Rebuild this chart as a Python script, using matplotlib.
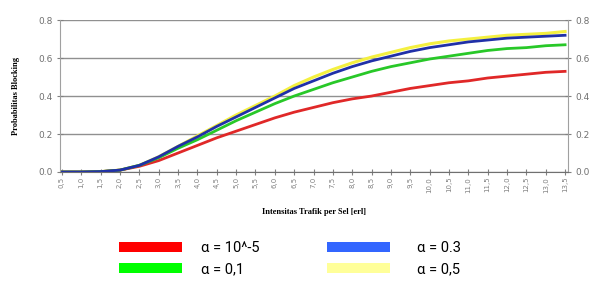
#!/usr/bin/env python3

import numpy as np
import matplotlib
matplotlib.use('Agg')
import matplotlib.pyplot as plt
from matplotlib.patches import Patch

# traffic per cell [erl] (category labels)
traffic = ['0,5', '1,0', '1,5', '2,0', '2,5', '3,0', '3,5', '4,0', '4,5',
           '5,0', '5,5', '6,0', '6,5', '7,0', '7,5', '8,0', '8,5', '9,0',
           '9,5', '10,0', '10,5', '11,0', '11,5', '12,0', '12,5', '13,0', '13,5']

# blocking probability for each alpha
p_a1 = [0, 0, 0.002, 0.01, 0.03, 0.06, 0.10, 0.14, 0.18, 0.215, 0.25, 0.285,
        0.315, 0.34, 0.365, 0.385, 0.40, 0.42, 0.44, 0.455, 0.47, 0.48,
        0.495, 0.505, 0.515, 0.525, 0.53]
p_a2 = [0, 0, 0.002, 0.01, 0.035, 0.075, 0.125, 0.17, 0.22, 0.27, 0.315,
        0.36, 0.40, 0.435, 0.47, 0.50, 0.53, 0.555, 0.575, 0.595, 0.61,
        0.625, 0.64, 0.65, 0.655, 0.665, 0.67]
p_a3 = [0, 0, 0.002, 0.01, 0.035, 0.08, 0.135, 0.185, 0.24, 0.29, 0.34,
        0.39, 0.44, 0.48, 0.52, 0.555, 0.585, 0.61, 0.635, 0.655, 0.67,
        0.685, 0.695, 0.705, 0.71, 0.715, 0.72]
p_a4 = [0, 0, 0.002, 0.01, 0.035, 0.08, 0.135, 0.19, 0.245, 0.30, 0.35,
        0.40, 0.455, 0.50, 0.54, 0.575, 0.605, 0.63, 0.655, 0.675, 0.69,
        0.70, 0.71, 0.72, 0.725, 0.73, 0.74]

labels = ['α = 10^-5', 'α = 0,1', 'α = 0.3', 'α = 0,5']

fig = plt.figure(figsize=(6.02, 2.87), dpi=100)
ax = fig.add_axes([0.0997, 0.4007, 0.8438, 0.5293])

x = np.arange(len(traffic))
# yellow drawn first so blue sits over it
ax.plot(x, p_a4, color='#f4f040', lw=2.2)
ax.plot(x, p_a1, color='#e02828', lw=2.0)
ax.plot(x, p_a2, color='#28c828', lw=2.0)
ax.plot(x, p_a3, color='#2030a8', lw=2.0)

ax.set_xlim(-0.1, len(traffic) - 1 + 0.15)
ax.set_ylim(0, 0.8)
ax.set_yticks([0, 0.2, 0.4, 0.6, 0.8])
ax.set_yticklabels(['0.0', '0.2', '0.4', '0.6', '0.8'])
ax.yaxis.grid(True, color='#909090', lw=1.0)
ax.set_axisbelow(True)

ax.set_xticks(x)
ax.set_xticklabels(traffic, rotation=90, fontsize=5, color='#808080',
                   family='DejaVu Sans')
ax.tick_params(axis='x', direction='inout', length=5, color='#808080', pad=1)
ax.tick_params(axis='y', direction='inout', length=4, color='#808080',
               labelsize=6.5, labelcolor='#707070', right=True, labelright=True)

ax.spines['top'].set_visible(False)
for s in ['left', 'right']:
    ax.spines[s].set_color('#a0a0a0')
ax.spines['bottom'].set_color('#707070')

ax.set_ylabel('Probabilitas Blocking', fontsize=6, fontweight='bold',
              family='Liberation Serif', labelpad=13)
ax.set_xlabel('Intensitas Trafik per Sel [erl]', fontsize=6,
              fontweight='bold', family='Liberation Serif', labelpad=11)

hcol = ['#ff0000', '#00ff00', '#3366ff', '#ffff99']
h1 = [Patch(facecolor=hcol[0]), Patch(facecolor=hcol[1])]
h2 = [Patch(facecolor=hcol[2]), Patch(facecolor=hcol[3])]
kw = dict(frameon=False, prop={'family': 'Roboto', 'size': 10.5},
          handlelength=4.3, handleheight=0.7, handletextpad=1.35,
          labelspacing=0.5, borderaxespad=0, borderpad=0)
leg1 = fig.legend(h1, labels[:2], loc='upper left',
                  bbox_to_anchor=(119 / 602, 1 - 241 / 287), **kw)
kw['handletextpad'] = 1.9
leg2 = fig.legend(h2, labels[2:], loc='upper left',
                  bbox_to_anchor=(327 / 602, 1 - 241 / 287), **kw)

fig.savefig('out.png', dpi=100)
